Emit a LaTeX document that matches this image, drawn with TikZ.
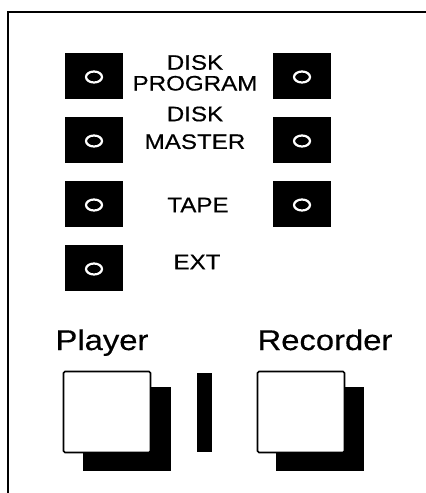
\documentclass[tikz,border=0pt]{standalone}
\usepackage{fontspec}
\setmainfont{Liberation Sans}
\newfontfamily\panelfont[FakeStretch=1.15,FakeBold=0.4]{Liberation Sans}
\usetikzlibrary{positioning,backgrounds}

\begin{document}
\begin{tikzpicture}[
  x=1pt,y=-1pt,
  node distance=64pt,
  on grid,
  select key/.style={rectangle,fill=black,minimum width=58pt,minimum height=46pt,inner sep=0pt,
    path picture={\draw[white,line width=2.2pt] ([yshift=-1pt]path picture bounding box.center) ellipse (8pt and 5.5pt);}},
  source label/.style={font=\panelfont\fontsize{21}{21}\selectfont,inner sep=0pt},
  deck label/.style={font=\panelfont\fontsize{28.5}{30}\selectfont,inner sep=0pt,anchor=base},
  deck key/.style={rectangle,draw=black,line width=1.6pt,fill=white,rounded corners=1.5pt,
    minimum width=87pt,minimum height=81pt,inner sep=0pt},
  key shadow/.style={rectangle,fill=black,minimum width=88pt,minimum height=84pt,inner sep=0pt},
  divider/.style={rectangle,fill=black,minimum width=15pt,minimum height=79pt,inner sep=0pt}
  ]
  \useasboundingbox (0,0) rectangle (426,493);
  % panel edge, top and left only
  \draw [line width=2pt] (8,493) |- (426,11.5);
  % source select keys, left and right column
  \node [select key] (dp-l) at (94,76) {};
  \node [select key] (dm-l) [below=of dp-l] {};
  \node [select key] (tp-l) [below=of dm-l] {};
  \node [select key] (ex-l) [below=of tp-l] {};
  \node [select key] (dp-r) [right=208pt of dp-l] {};
  \node [select key] (dm-r) [right=208pt of dm-l] {};
  \node [select key] (tp-r) [right=208pt of tp-l] {};
  % source labels
  \node [source label] (disk1)  at (195,62.5)  {DISK};
  \node [source label] (prog)   at (195,83.3)  {PROGRAM};
  \node [source label] (disk2)  at (195,114)   {DISK};
  \node [source label] (master) at (195,141.7) {MASTER};
  \node [source label] (tape)   [right=104pt of tp-l, yshift=-1pt] {TAPE};
  \node [source label] (ext)    [right=103pt of ex-l, yshift=6pt] {EXT};
  % player / recorder keys
  \node [deck key] (play-key) at (107,412) {};
  \node [deck key] (rec-key)  [right=194pt of play-key] {};
  \node [divider]  (bar)      [right=97.5pt of play-key] {};
  \node [deck label] (play-lbl) at (102,350) {Player};
  \node [deck label] (rec-lbl)  at (325,350) {Recorder};
  \begin{scope}[on background layer]
    \node [key shadow] (play-sh) [right=19.5pt of play-key, yshift=-17pt] {};
    \node [key shadow] (rec-sh)  [right=19pt of rec-key, yshift=-17pt] {};
  \end{scope}
\end{tikzpicture}
\end{document}
